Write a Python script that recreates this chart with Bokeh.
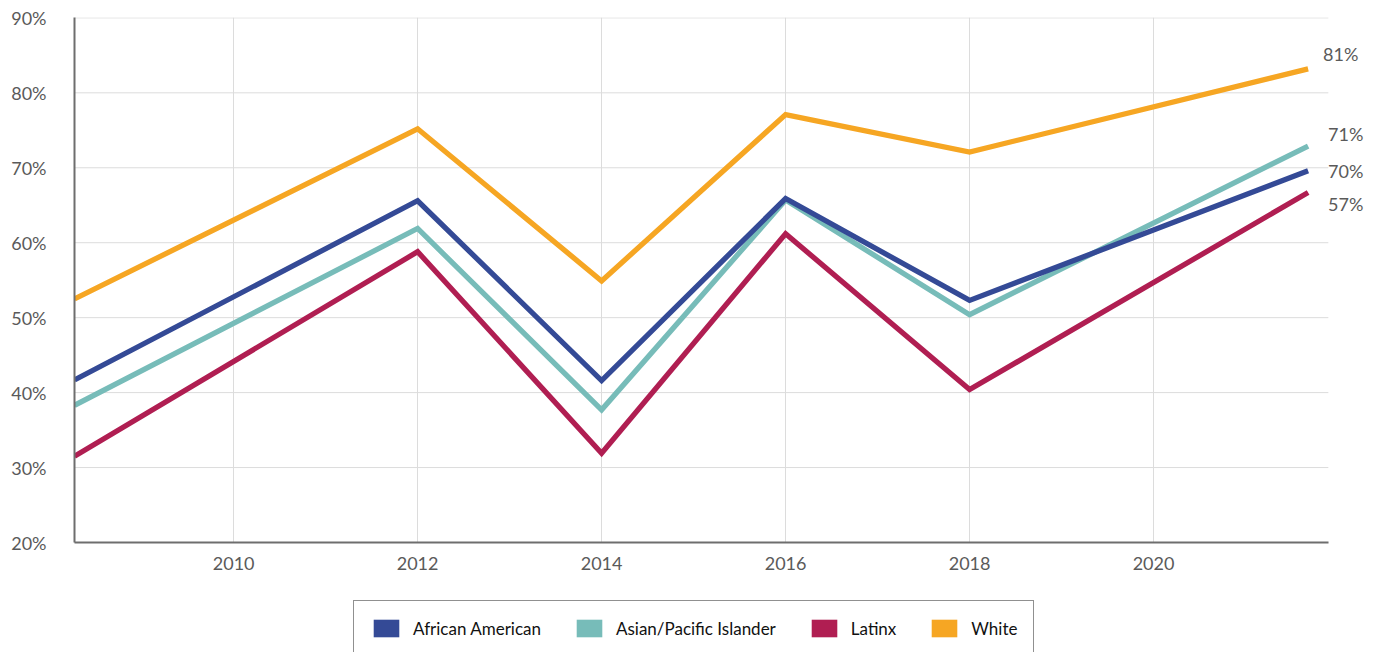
from bokeh.plotting import figure
from bokeh.layouts import column
from bokeh.models import (FixedTicker, PrintfTickFormatter, Legend, LegendItem,
                          Label, Range1d, ColumnDataSource)
from bokeh.embed import file_html
from bokeh.resources import INLINE

# ---- data ----
years = [2008.27, 2012, 2014, 2016, 2018, 2021.68]
series_names = ["African American", "Asian/Pacific Islander", "Latinx", "White"]
african_american = [41.7, 65.6, 41.6, 65.9, 52.3, 69.6]
asian_pacific = [38.3, 61.9, 37.7, 65.7, 50.4, 72.9]
latinx = [31.5, 58.8, 31.9, 61.2, 40.4, 66.7]
white = [52.5, 75.2, 54.9, 77.1, 72.1, 83.2]
end_labels = ["70%", "71%", "57%", "81%"]
x_ticks = [2010, 2012, 2014, 2016, 2018, 2020]
y_ticks = [20, 30, 40, 50, 60, 70, 80, 90]
x_start, x_plot_end, x_view_end = 2008.27, 2021.9, 2022.38

# ---- styles ----
colors = ["#344a96", "#77bcb9", "#b01e52", "#f6a623"]
label_offsets = [(20, 0), (20, 12), (20, -11), (15, 15)]  # pixels
FONT = "Lato"
TEXT = "#5a5a5a"
W = 1372

p = figure(width=W, height=580, output_backend="svg", toolbar_location=None,
           x_range=Range1d(x_start, x_view_end), y_range=Range1d(20, 90.05),
           min_border_left=74, min_border_right=0, min_border_top=17,
           min_border_bottom=38)
p.outline_line_color = None
p.background_fill_color = "white"

p.xaxis.ticker = FixedTicker(ticks=x_ticks)
p.yaxis.ticker = FixedTicker(ticks=y_ticks)
p.yaxis.formatter = PrintfTickFormatter(format="%d%%")
for ax in (p.xaxis, p.yaxis):
    ax.axis_line_color = "#6e6e6e"
    ax.axis_line_width = 2
    ax.major_tick_line_color = None
    ax.minor_tick_line_color = None
    ax.major_label_text_font = FONT
    ax.major_label_text_color = TEXT
    ax.major_label_text_font_size = "18px"
p.yaxis.major_label_standoff = 22
p.xaxis.major_label_standoff = 8
p.xaxis.bounds = (x_start, x_plot_end)

p.xgrid.ticker = FixedTicker(ticks=x_ticks)
p.xgrid.grid_line_color = "#dcdcdc"
p.ygrid.grid_line_color = None
p.segment(x0=[x_start] * len(y_ticks), x1=[x_plot_end] * len(y_ticks),
          y0=y_ticks, y1=y_ticks, line_color="#dcdcdc", line_width=1)

all_series = [african_american, asian_pacific, latinx, white]
draw_order = [3, 1, 0, 2]
for i in draw_order:
    src = ColumnDataSource(dict(x=years, y=all_series[i]))
    p.line("x", "y", source=src, line_color=colors[i], line_width=5.3,
           line_join="miter")

for i in range(4):
    dx, dy = label_offsets[i]
    p.add_layout(Label(x=years[-1], y=all_series[i][-1], x_offset=dx, y_offset=dy,
                       text=end_labels[i], text_font=FONT, text_color=TEXT,
                       text_font_size="18px", text_baseline="middle"))

# ---- legend strip ----
q = figure(width=W, height=72, output_backend="svg", toolbar_location=None,
           x_range=Range1d(0, 1), y_range=Range1d(0, 1),
           x_axis_location=None, y_axis_location=None,
           min_border_left=0, min_border_right=0, min_border_top=0,
           min_border_bottom=0)
q.outline_line_color = None
q.grid.visible = False
nan = float("nan")
items = []
for i, name in enumerate(series_names):
    sw = q.quad(left=[nan], right=[nan], top=[nan], bottom=[nan],
                fill_color=colors[i], line_color=None)
    items.append(LegendItem(label=name, renderers=[sw]))

legend = Legend(items=items, orientation="horizontal", location=(279, -4),
                glyph_width=32, glyph_height=22, label_standoff=11, spacing=32,
                padding=16, margin=0, border_line_color="#222222",
                border_line_width=1.3, label_text_font=FONT,
                label_text_font_size="17px", label_text_color="#111111",
                background_fill_color="white", background_fill_alpha=1)
q.add_layout(legend, "center")

layout = column(p, q, spacing=0)
open("out.html", "w").write(file_html(layout, INLINE))
